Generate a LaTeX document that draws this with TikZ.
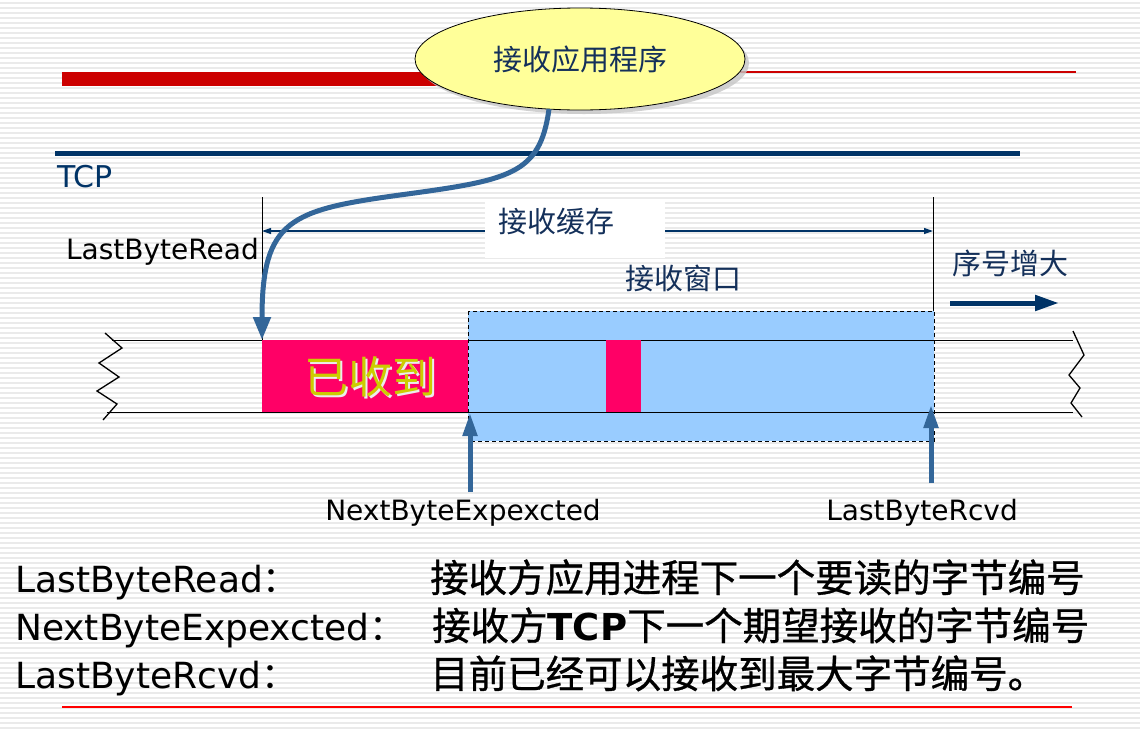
\documentclass[tikz,border=0pt]{standalone}
\usepackage{fontspec}
\setmainfont{DejaVu Sans}
\newfontfamily\cjk{Noto Sans CJK SC}
\newfontfamily\cjkheavy[FakeBold=0.8]{Noto Sans CJK SC}
\usetikzlibrary{arrows.meta,shapes.geometric,shadows}

\definecolor{stripe}{RGB}{234,234,234}
\definecolor{barred}{RGB}{204,0,0}
\definecolor{tcpnavy}{RGB}{0,51,102}
\definecolor{labelnavy}{RGB}{20,48,90}
\definecolor{steel}{RGB}{51,102,153}
\definecolor{appyellow}{RGB}{255,255,153}
\definecolor{winblue}{RGB}{153,204,255}
\definecolor{gotpink}{RGB}{255,0,102}
\definecolor{gotyellow}{RGB}{204,204,0}

\tikzset{
  stripeline/.style={draw=stripe, line width=1.4pt},
  thinline/.style={draw=black, line width=0.8pt},
  bufline/.style={draw=black, line width=1pt},
  zig/.style={draw=black, line width=1.3pt},
  pointer/.style={draw=steel, line width=5pt, -{Triangle[length=23pt,width=17pt]}},
  cnlabel/.style={text=labelnavy, inner sep=0pt, font=\cjk\fontsize{29}{32}\selectfont},
  enlabel/.style={text=black, inner sep=0pt, font=\fontsize{28}{32}\selectfont},
  rowlabel/.style={text=black, inner sep=0pt, anchor=base west, font=\fontsize{36}{40}\selectfont},
  rowtext/.style={text=black, inner sep=0pt, anchor=base west, font=\cjkheavy\fontsize{38.5}{40}\selectfont},
}

\begin{document}
\begin{tikzpicture}[x=1pt,y=-1pt]
\useasboundingbox (0,0) rectangle (1140,729);
\fill[white] (0,0) rectangle (1140,729);

% ruled background
\foreach \yy in {3,8,...,728} \draw[stripeline] (0,\yy) -- (1140,\yy);

% slide rules
\fill[barred] (62,72) rectangle (445,86);
\draw[barred, line width=1.2pt] (740,72) -- (1076,72);
\fill[tcpnavy] (55,151) rectangle (1020,156);

% receiving application
\node[ellipse, draw=black, line width=0.8pt, fill=appyellow,
      minimum width=330pt, minimum height=102pt, inner sep=0pt,
      drop shadow={shadow xshift=4pt, shadow yshift=-4pt, fill=gray!45, opacity=0.8},
      font=\cjk\fontsize{29}{32}\selectfont, text=labelnavy] (app) at (580,59) {接收应用程序};

\node[text=tcpnavy, inner sep=0pt, font=\fontsize{30}{32}\selectfont] (tcp) at (85,177) {TCP};

% buffer extent markers
\coordinate (lbrtop) at (262,197);
\coordinate (lbr) at (262,340);
\coordinate (rbtop) at (933,197);
\coordinate (rbbot) at (933,311);
\draw[thinline] (lbrtop) -- (lbr);
\draw[thinline] (rbtop) -- (rbbot);
\coordinate (dimL) at (262,231);
\coordinate (dimR) at (933,231);
\draw[draw=tcpnavy, line width=1.2pt, {Triangle[length=9pt,width=6pt]}-{Triangle[length=9pt,width=6pt]}] (dimL) -- (dimR);
\node[fill=white, minimum width=180pt, minimum height=58pt, inner sep=0pt] (bufbox) at (575,229) {};
\node[cnlabel] (buflabel) at (556,222) {接收缓存};

\node[enlabel, anchor=east] (lastread) at (259,252) {LastByteRead};
\node[cnlabel] (winlabel) at (683,278) {接收窗口};
\node[cnlabel] (seqlabel) at (1010,263) {序号增大};
\coordinate (seqA) at (950,303);
\coordinate (seqB) at (1059,303);
\draw[draw=tcpnavy, line width=5pt, -{Triangle[length=24pt,width=15pt]}] (seqA) -- (seqB);

% receive window
\draw[fill=winblue, draw=black, line width=0.9pt, dash pattern=on 4pt off 3pt] (468,311) rectangle (934,441);

% byte stream
\draw[bufline] (112,340) -- (1073,340);
\draw[bufline] (107,412) -- (1073,412);
\draw[zig] (105,333) -- (122,348) -- (99,363) -- (119,377) -- (97,391) -- (117,404) -- (103,420);
\draw[zig] (1073,331) -- (1084,355) -- (1069,375) -- (1080,388) -- (1071,403) -- (1082,417);

\node[fill=gotpink, minimum width=206pt, minimum height=72pt, inner sep=0pt, anchor=north west] (got) at (262,340) {};
\node[fill=gotpink, minimum width=35pt, minimum height=72pt, inner sep=0pt, anchor=north west] (gotb) at (606,340) {};
\node[text=white!85!gray, inner sep=0pt, font=\cjk\fontsize{44}{48}\selectfont] at (372,379) {已收到};
\node[text=gotyellow, inner sep=0pt, font=\cjk\fontsize{44}{48}\selectfont] (gotlabel) at (370,377) {已收到};

% pointers
\coordinate (appfoot) at (549,109);
\draw[pointer] (appfoot) .. controls (540,175) and (510,180) .. (400,195)
               .. controls (290,210) and (262,220) .. (lbr);
\coordinate (nbeBase) at (470,492);
\coordinate (nbeTip) at (470,413);
\coordinate (lbrcBase) at (931,483);
\coordinate (lbrcTip) at (931,405);
\draw[draw=steel, line width=5pt, -{Triangle[length=23pt,width=14pt]}] (nbeBase) -- (nbeTip);
\draw[draw=steel, line width=5pt, -{Triangle[length=23pt,width=14pt]}] (lbrcBase) -- (lbrcTip);

\node[enlabel] (nbe) at (463,513) {NextByteExpexcted};
\node[enlabel] (lbrc) at (922,513) {LastByteRcvd};

% definitions
\node[rowlabel] (d1) at (15,592) {LastByteRead{\cjk：}};
\node[rowtext] (t1) at (430,592) {接收方应用进程下一个要读的字节编号};
\node[rowlabel] (d2) at (15,640) {NextByteExpexcted{\cjk：}};
\node[rowtext] (t2) at (432,640) {接收方{\rmfamily\bfseries\fontsize{37}{40}\selectfont TCP}下一个期望接收的字节编号};
\node[rowlabel] (d3) at (15,688) {LastByteRcvd{\cjk：}};
\node[rowtext] (t3) at (430,688) {目前已经可以接收到最大字节编号。};

\draw[draw=red, line width=1.3pt] (62,707) -- (1072,707);
\end{tikzpicture}
\end{document}
